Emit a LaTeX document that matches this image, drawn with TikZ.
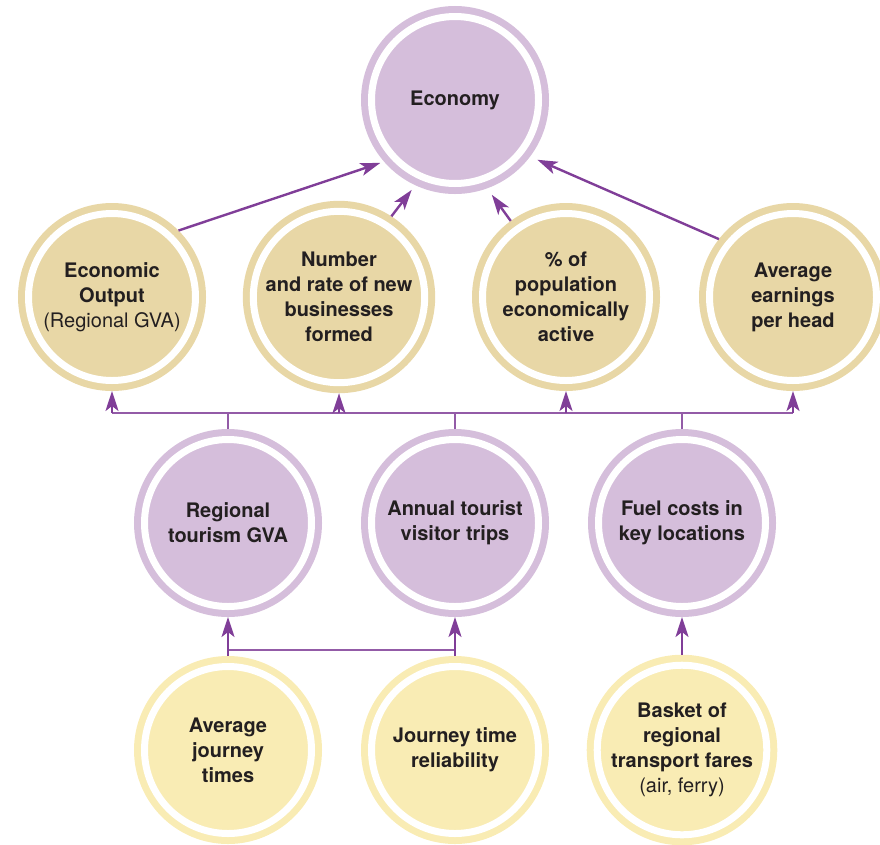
\documentclass[tikz,border=0pt]{standalone}
\usepackage{fontspec}
\setmainfont{TeX Gyre Heros}
\usetikzlibrary{arrows.meta}

\definecolor{econPurple}{RGB}{213,190,219}
\definecolor{outTan}{RGB}{232,215,166}
\definecolor{inYellow}{RGB}{249,236,180}
\definecolor{linkPurple}{RGB}{128,62,152}
\definecolor{textDark}{RGB}{35,31,32}

\begin{document}
\begin{tikzpicture}[x=1pt, y=-1pt,
		ringnode/.style={circle, minimum size=167pt, inner sep=0pt, outer sep=10.5pt,
			fill=#1, draw=#1, line width=7pt, double=white, double distance=7pt,
			align=center, text=textDark, font=\fontsize{20}{25}\selectfont\bfseries},
		flow/.style={draw=linkPurple, line width=2.4pt,
			-{Stealth[length=20pt, width=13pt, inset=5pt]}},
		bus/.style={draw=linkPurple!85!white, line width=1.8pt}]
		% --- Geometry Defs ---
		\def\rowA{297}
		\def\rowB{523}
		\def\rowC{750}
		\useasboundingbox (0,0) rectangle (880,844);
		
		% --- Top: Economy ---
		\node[ringnode=econPurple] (econ) at (455,100) {Economy};
		
		% --- Outcome indicators ---
		\node[ringnode=outTan] (gvaOut) at (112,\rowA) {Economic\\Output\\{\mdseries (Regional GVA)}};
		\node[ringnode=outTan] (newBiz) at (339,\rowA) {Number\\and rate of new\\businesses\\formed};
		\node[ringnode=outTan] (active) at (566,\rowA) {\% of\\population\\economically\\active};
		\node[ringnode=outTan] (earnings) at (793,\rowA) {Average\\earnings\\per head};
		
		% --- Intermediate indicators ---
		\node[ringnode=econPurple] (tourGVA) at (228,\rowB) {Regional\\tourism GVA};
		\node[ringnode=econPurple] (trips) at (455,\rowB) {Annual tourist\\visitor trips};
		\node[ringnode=econPurple] (fuel) at (682,\rowB) {Fuel costs in\\key locations};
		
		% --- Transport indicators ---
		\node[ringnode=inYellow] (jTimes) at (228,\rowC) {Average\\journey\\times};
		\node[ringnode=inYellow] (jRel) at (455,\rowC) {Journey time\\reliability};
		\node[ringnode=inYellow] (fares) at (682,\rowC) {Basket of\\regional\\transport fares\\{\mdseries (air, ferry)}};
		
		% --- Arrows into Economy ---
		\draw[flow, shorten >=4pt] (gvaOut.45) -- (econ.221);
		\draw[flow, shorten >=6pt] (newBiz.57) -- (econ.245);
		\draw[flow, shorten >=8pt] (active.126) -- (econ.290);
		\draw[flow, shorten >=8pt] (earnings.142) -- (econ.323);
		
		% --- Bus between rows ---
		\coordinate (busA) at (0,413);
		\draw[bus] (gvaOut.south |- busA) -- (earnings.south |- busA);
		\foreach \n in {gvaOut,newBiz,active,earnings}
			\draw[flow] (\n.south |- busA) -- (\n.south);
		\foreach \n in {tourGVA,trips,fuel}
			\draw[bus] (\n.north) -- (\n.north |- busA);
		
		% --- Bottom links ---
		\coordinate (busB) at (0,650);
		\draw[bus] (jTimes.north |- busB) -- (jRel.north |- busB);
		\draw[flow] (jTimes.north) -- (tourGVA.south);
		\draw[flow] (jRel.north) -- (trips.south);
		\draw[flow] (fares.north) -- (fuel.south);
		
	\end{tikzpicture}
\end{document}
